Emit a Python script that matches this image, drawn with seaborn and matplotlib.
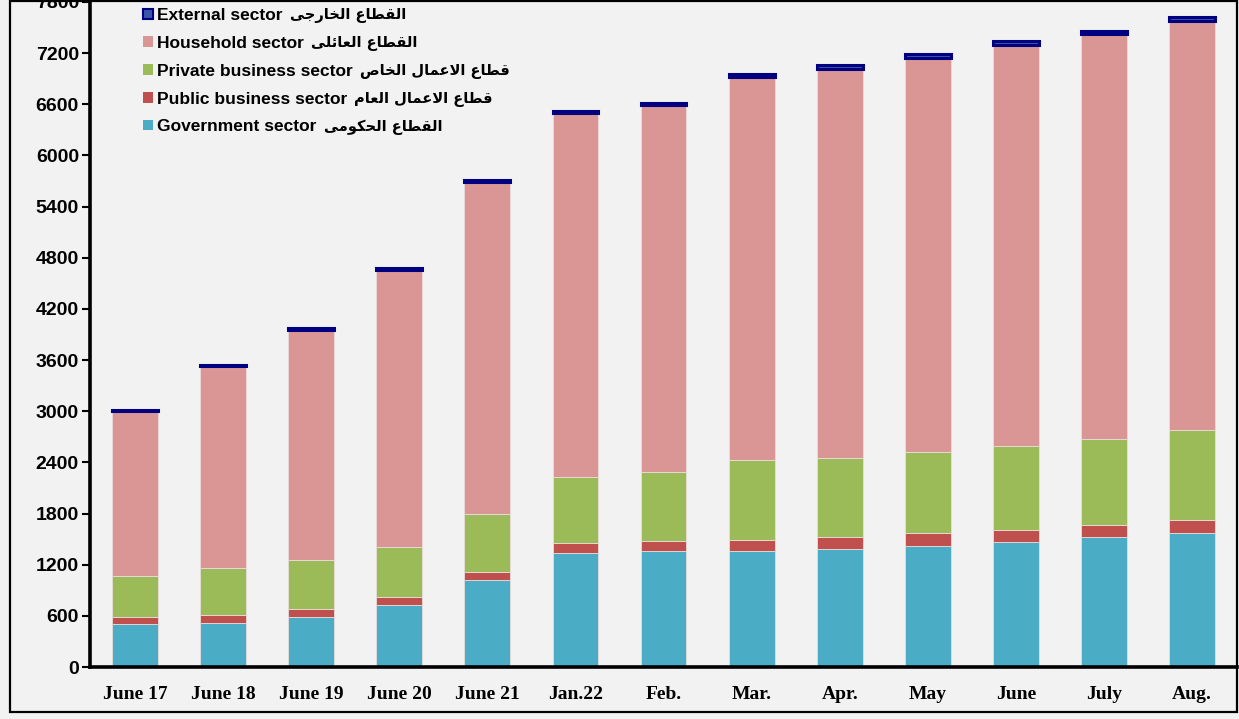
import matplotlib
matplotlib.use("Agg")
import matplotlib.pyplot as plt
from matplotlib.patches import Patch, Rectangle
import seaborn as sns
import pandas as pd
import numpy as np

# ---------------- data ----------------
categories = ["June 17", "June 18", "June 19", "June 20", "June 21", "Jan.22",
              "Feb.", "Mar.", "Apr.", "May", "June", "July", "Aug."]
government = [504, 516, 590, 727, 1015, 1335, 1360, 1360, 1387, 1418, 1469, 1524, 1567]
public_business = [82, 94, 94, 93, 100, 120, 121, 128, 140, 156, 141, 140, 160]
private_business = [477, 547, 566, 586, 685, 770, 812, 938, 919, 950, 984, 1012, 1047]
household = [1937, 2368, 2700, 3247, 3885, 4268, 4294, 4489, 4574, 4619, 4706, 4744, 4799]
external = [20, 22, 24, 26, 28, 30, 32, 40, 42, 42, 45, 45, 48]
yticks = list(range(0, 7801, 600))

legend_en = ["External sector", "Household sector", "Private business sector",
             "Public business sector", "Government sector"]
legend_ar = ["القطاع الخارجى", "القطاع العائلى", "قطاع الاعمال الخاص",
             "قطاع الاعمال العام", "القطاع الحكومى"]

# ---------------- arabic shaping (presentation forms, visual order) ----------------
FORMS = {
    '\u0627': ('\uFE8D', '\uFE8E', None, None),
    '\u0626': ('\uFE89', '\uFE8A', '\uFE8B', '\uFE8C'),
    '\u062C': ('\uFE9D', '\uFE9E', '\uFE9F', '\uFEA0'),
    '\u062D': ('\uFEA1', '\uFEA2', '\uFEA3', '\uFEA4'),
    '\u062E': ('\uFEA5', '\uFEA6', '\uFEA7', '\uFEA8'),
    '\u0631': ('\uFEAD', '\uFEAE', None, None),
    '\u0635': ('\uFEB9', '\uFEBA', '\uFEBB', '\uFEBC'),
    '\u0637': ('\uFEC1', '\uFEC2', '\uFEC3', '\uFEC4'),
    '\u0639': ('\uFEC9', '\uFECA', '\uFECB', '\uFECC'),
    '\u0642': ('\uFED5', '\uFED6', '\uFED7', '\uFED8'),
    '\u0643': ('\uFED9', '\uFEDA', '\uFEDB', '\uFEDC'),
    '\u0644': ('\uFEDD', '\uFEDE', '\uFEDF', '\uFEE0'),
    '\u0645': ('\uFEE1', '\uFEE2', '\uFEE3', '\uFEE4'),
    '\u0648': ('\uFEED', '\uFEEE', None, None),
    '\u0649': ('\uFEEF', '\uFEF0', None, None),
}


def shape(text):
    chars = list(text)
    n = len(chars)
    res = []
    i = 0
    while i < n:
        c = chars[i]
        if c not in FORMS:
            res.append(c)
            i += 1
            continue
        prev = chars[i - 1] if i > 0 else None
        joins_prev = prev in FORMS and FORMS[prev][2] is not None
        if c == '\u0644' and i + 1 < n and chars[i + 1] == '\u0627':
            res.append('\uFEFC' if joins_prev else '\uFEFB')
            i += 2
            continue
        nxt = chars[i + 1] if i + 1 < n else None
        iso, fin, ini, med = FORMS[c]
        joins_next = ini is not None and nxt in FORMS
        if joins_prev and joins_next:
            res.append(med)
        elif joins_prev:
            res.append(fin)
        elif joins_next:
            res.append(ini)
        else:
            res.append(iso)
        i += 1
    return ''.join(res)[::-1]


# ---------------- style ----------------
sns.set_theme(style="white")
BG = "#f2f2f2"
plt.rcParams['font.family'] = ['Liberation Sans', 'DejaVu Sans']
plt.rcParams['text.color'] = 'black'

c_gov = "#4BACC6"
c_pub = "#C0504D"
c_priv = "#9BBB59"
c_house = "#D99694"
c_ext_face = "#3a56a8"
c_ext_edge = "#000080"

W, H = 1239, 719
fig = plt.figure(figsize=(W / 100, H / 100), dpi=100, facecolor=BG)
ax = fig.add_axes([90 / W, (H - 667) / H, (1237 - 90) / W, (667 - 2) / H])
ax.set_facecolor(BG)

df = pd.DataFrame({
    "cat": categories,
    "gov": government,
    "pub": public_business,
    "priv": private_business,
    "house": household,
    "ext": external,
})
b1 = np.array(government)
b2 = b1 + np.array(public_business)
b3 = b2 + np.array(private_business)
b4 = b3 + np.array(household)

bw = 0.52
edge_kw = dict(edgecolor="#e8dcdc", linewidth=0.6)
sns.barplot(data=df, x="cat", y="gov", order=categories, color=c_gov, saturation=1,
            width=bw, ax=ax, **edge_kw)
sns.barplot(data=df, x="cat", y="pub", order=categories, color=c_pub, saturation=1,
            width=bw, ax=ax, bottom=b1, **edge_kw)
sns.barplot(data=df, x="cat", y="priv", order=categories, color=c_priv, saturation=1,
            width=bw, ax=ax, bottom=b2, **edge_kw)
sns.barplot(data=df, x="cat", y="house", order=categories, color=c_house, saturation=1,
            width=bw, ax=ax, bottom=b3, **edge_kw)
sns.barplot(data=df, x="cat", y="ext", order=categories, color=c_ext_face, saturation=1,
            width=bw, ax=ax, bottom=b4, edgecolor=c_ext_edge, linewidth=2.2)

ax.set_xlim(-0.51, len(categories) - 0.49)
ax.set_ylim(0, 7800)
ax.set_yticks(yticks)
ax.set_yticklabels([str(v) for v in yticks], fontsize=14, fontweight="bold",
                   family=['Liberation Sans', 'DejaVu Sans'])
ax.set_xticks(range(len(categories)))
ax.set_xticklabels(categories, fontsize=14, fontweight="bold",
                   family=['Liberation Serif', 'DejaVu Serif'])
ax.set_xlabel("")
ax.set_ylabel("")
ax.tick_params(axis="y", direction="out", length=6, width=1.5, pad=2, colors="black")
ax.tick_params(axis="x", direction="in", length=4, width=1.5, pad=14, colors="black")
ax.tick_params(axis="both", left=True, bottom=True)

for s in ["left", "bottom"]:
    ax.spines[s].set_color("black")
    ax.spines[s].set_linewidth(2.6)
for s in ["top", "right"]:
    ax.spines[s].set_visible(False)

# legend (English part inside the legend, Arabic part placed right after each entry)
handles = [
    Patch(facecolor=c_ext_face, edgecolor=c_ext_edge, linewidth=1.5),
    Patch(facecolor=c_house, edgecolor="none"),
    Patch(facecolor=c_priv, edgecolor="none"),
    Patch(facecolor=c_pub, edgecolor="none"),
    Patch(facecolor=c_gov, edgecolor="none"),
]
leg = ax.legend(handles, legend_en, loc="upper left", bbox_to_anchor=(0.0465, 0.991),
                frameon=False, handlelength=0.55, handleheight=0.55, handletextpad=0.25,
                labelspacing=0.74, borderaxespad=0, borderpad=0, labelcolor="black",
                prop=dict(family=['Liberation Sans', 'DejaVu Sans'], weight="bold", size=12.5))

fig.canvas.draw()
renderer = fig.canvas.get_renderer()
for txt, ar in zip(leg.get_texts(), legend_ar):
    bb = txt.get_window_extent(renderer)
    xf = (bb.x1 + 7) / W
    yf = (bb.y0 + bb.y1) / 2 / H
    fig.text(xf, yf, shape(ar), ha="left", va="center", fontsize=10.5,
             fontweight="bold", family=['DejaVu Sans'], color="black")

# outer frame
fig.patches.append(Rectangle((10 / W, 7 / H), (1237 - 10) / W, (H - 8) / H,
                             transform=fig.transFigure, fill=False,
                             edgecolor="black", linewidth=1.6, zorder=10))

fig.savefig("out.png", dpi=100, facecolor=BG)
